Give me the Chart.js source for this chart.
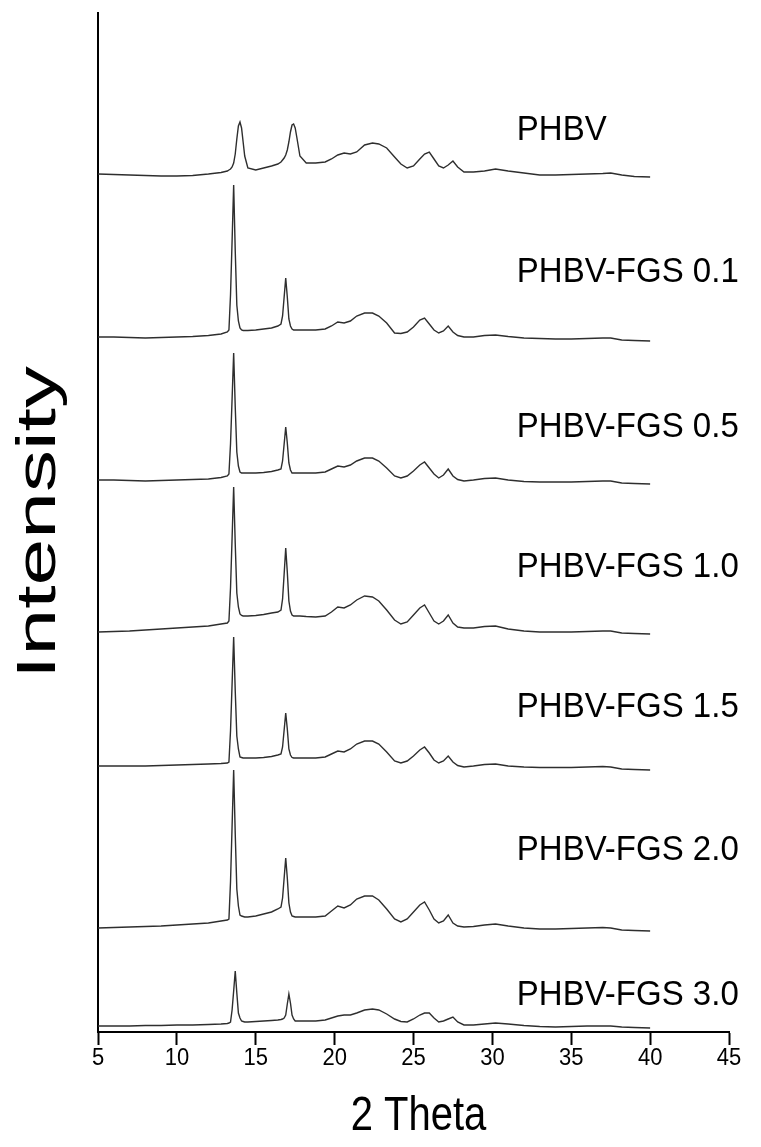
<!DOCTYPE html>
<html>
<head>
<meta charset="utf-8">
<script src="https://cdn.jsdelivr.net/npm/chart.js@4.4.1/dist/chart.umd.min.js"></script>
<style>
  html, body { margin: 0; padding: 0; background: #fff; }
  #wrap { width: 761px; height: 1147px; position: relative; }
</style>
</head>
<body>
<div id="wrap"><canvas id="xrd"></canvas></div>
<script>
// ── Data ───────────────────────────────────────────────────────────
// 2θ sampling grid (degrees), finer around the two main reflections
const twoTheta = [
  5, 6, 7, 8, 9, 10, 11, 12, 12.8,
  13.2, 13.3, 13.4, 13.5, 13.6, 13.7, 13.8, 13.9, 14.0, 14.1, 14.2, 14.3,
  14.5, 15.0, 15.5, 16.0, 16.4,
  16.6, 16.7, 16.8, 16.9, 17.0, 17.1, 17.2, 17.3, 17.4, 17.5, 17.6,
  17.8, 18.2, 18.8, 19.4, 19.8,
  20.2, 20.6, 21.0, 21.4, 21.9, 22.4, 22.8, 23.3, 23.8,
  24.2, 24.6, 25.0, 25.4, 25.7, 26.0, 26.3, 26.6, 26.9, 27.2, 27.5, 27.8,
  28.2, 28.8, 29.5, 30.2, 31.0, 32.0, 33.0, 34.0, 35.0, 36.0, 37.0, 37.5, 38.2, 39.0, 40.0
];

const samples = ['PHBV', 'PHBV-FGS 0.1', 'PHBV-FGS 0.5', 'PHBV-FGS 1.0',
                 'PHBV-FGS 1.5', 'PHBV-FGS 2.0', 'PHBV-FGS 3.0'];

const xTicks = [5, 10, 15, 20, 25, 30, 35, 40, 45];

// vertical offset of each pattern in the stack (a.u.)
const offsets = [858, 695, 552, 400, 266, 104, 6];

// intensity above each pattern's own baseline (a.u.)
const iPHBV = [
  0, -0.5, -1, -1.5, -2, -2, -1.5, 0, 1.5,
  3, 4, 5, 7, 11, 20, 35, 48, 52, 46, 32, 18,
  6, 4, 6, 8, 10,
  12, 14, 16, 19, 24, 32, 42, 49, 50, 46, 37,
  18, 11, 11, 12, 15,
  19, 21, 20, 22, 29, 31, 30, 26, 17,
  10, 6, 8, 15, 20, 22, 15, 8, 6, 9, 13, 7,
  2, 2, 3, 5, 3, 1, -1, -1, -0.5, 0, 0.5, 1, -1, -2.5, -3
];
const iFGS01 = [
  0, 0, -0.5, -1, -0.5, 0, 0.5, 1.5, 3,
  5, 7, 42, 96, 152, 86, 32, 16, 9, 7, 6.5, 6.5,
  6.5, 7, 8, 9, 11,
  13, 21, 40, 59, 40, 18, 11, 8, 7, 7, 7,
  7, 7, 7, 8, 11,
  15, 14, 16, 21, 24, 24, 21, 14, 4,
  3.5, 5, 10, 17, 19, 13, 7, 4, 6, 11, 5, 1.5,
  0, 0, 1.5, 2, 0.5, -1, -1.5, -2, -2, -1.5, -1, -1, -3, -3.5, -4
];
const iFGS05 = [
  0, 0, -0.5, -1, -0.5, 0, 0.5, 1, 2.5,
  4, 6, 36, 81, 127, 73, 28, 14, 8, 7, 7, 7,
  7, 7, 7.5, 8.5, 10,
  11, 19, 36, 53, 37, 17, 10, 7, 7, 7, 7,
  7, 7, 7, 8, 11,
  14, 13, 15, 19, 22, 22, 19, 12, 4,
  2, 4, 9, 15, 18, 12, 6, 2, 5, 11, 4, 0.5,
  -1, 0, 1.5, 2, 0, -1.5, -2, -2, -2, -1.5, -1, -1, -3, -3.5, -4
];
const iFGS10 = [
  0, 0.5, 1, 2, 3, 4, 5, 6, 8,
  9, 11, 44, 94, 145, 88, 39, 25, 18, 16.5, 16, 16,
  16, 16.5, 17.5, 19, 20,
  22, 33, 58, 84, 60, 31, 21, 17, 16, 16, 16,
  16, 15.5, 15, 16, 20,
  25, 24, 27, 32, 36, 35, 31, 22, 12,
  8, 10, 17, 24, 27, 19, 11, 8, 11, 17, 9, 5,
  4, 4, 5.5, 6, 3, 1, 0, 0, 0, 0.5, 1, 1, -1, -1.5, -2
];
const iFGS15 = [
  0, 0, 0, 0, 0.5, 1, 1.5, 2, 2.5,
  3, 4, 35, 82, 129, 75, 30, 17, 9, 8.5, 8, 8,
  8, 8, 8.5, 9.5, 11,
  12, 19, 36, 53, 37, 17, 11, 8.5, 8, 8, 8,
  8, 8, 8, 9, 12,
  15, 14, 17, 22, 25, 25, 22, 14, 5,
  3, 5, 10, 16, 19, 13, 6, 3, 5, 10, 4, 0.5,
  -1, 0, 1.5, 2, 0, -1, -1.5, -1.5, -1.5, -1, -0.5, -1, -3, -3.5, -4
];
const iFGS20 = [
  0, 0.5, 1, 1.5, 2, 3, 4, 5, 7,
  8, 9, 46, 102, 158, 94, 39, 22, 13, 12, 11.5, 11,
  11, 12, 14, 16, 19,
  21, 30, 50, 70, 50, 25, 16, 12, 11.5, 11, 11,
  11, 11, 11, 12, 17,
  22, 20, 23, 29, 32, 32, 28, 19, 9,
  6, 9, 16, 23, 26, 18, 9, 5, 7, 13, 5, 2,
  1, 1.5, 3, 4, 2, 0, -1, -1, -0.5, 0, 0.5, 0, -2, -2.5, -3
];
const iFGS30 = [
  0, 0, 0, 0.5, 0.5, 1, 1, 1.5, 2,
  2.5, 3, 4, 16, 35, 55, 33, 13, 8, 5, 4.5, 4,
  4, 4.5, 5, 5.5, 6,
  6.5, 7, 8, 11, 22, 32, 23, 11, 7, 5, 5,
  5, 5, 5, 6, 8,
  10, 11, 11, 13, 16, 17, 16, 12, 7,
  4.5, 4, 7, 11, 13, 13, 8, 4, 5, 7, 9, 4,
  1, 1, 2, 3, 2, 0.5, -0.5, -1, -0.5, 0, 0, 0, -1, -1.5, -2
];
const intensities = [iPHBV, iFGS01, iFGS05, iFGS10, iFGS15, iFGS20, iFGS30];

// ── Layout / style ─────────────────────────────────────────────────
const FONT = "'Liberation Sans', Arial, Helvetica, sans-serif";
const LINE_COLOR = '#2e2e2e';
const LABEL_X = 31.55;                                   // 2θ where labels start
const LABEL_LEVEL = [902, 760, 605, 465, 325, 182, 37];  // label centres (a.u.)

// the source figure's lettering is taller than it is wide, so text is
// drawn here with a vertical stretch instead of through the scale options
function stretchedText(ctx, text, x, y, size, sx, sy, rotate) {
  ctx.save();
  ctx.translate(x, y);
  if (rotate) ctx.rotate(rotate);
  ctx.scale(sx, sy);
  ctx.font = size + 'px ' + FONT;
  ctx.fillText(text, 0, 0);
  ctx.restore();
}

const figureText = {
  id: 'figureText',
  afterDraw(chart) {
    const { ctx, scales: { x, y } } = chart;
    ctx.save();
    ctx.fillStyle = '#000';

    // sample names
    ctx.textAlign = 'left';
    ctx.textBaseline = 'middle';
    samples.forEach((name, i) => {
      stretchedText(ctx, name, x.getPixelForValue(LABEL_X),
                    y.getPixelForValue(LABEL_LEVEL[i]), 33, 1, 1.05);
    });

    // x tick labels
    ctx.textAlign = 'center';
    ctx.textBaseline = 'alphabetic';
    xTicks.forEach(v => {
      stretchedText(ctx, String(v), x.getPixelForValue(v), y.bottom + 33, 22, 1, 1.12);
    });

    // axis titles
    stretchedText(ctx, '2 Theta', (x.left + x.right) / 2 + 5, y.bottom + 98, 40, 1, 1.2);
    stretchedText(ctx, 'Intensity', 55, (y.top + y.bottom) / 2, 56, 1.5, 1, -Math.PI / 2);

    ctx.restore();
  }
};

const datasets = samples.map((name, i) => ({
  label: name,
  data: twoTheta.map((t, k) => ({ x: t, y: intensities[i][k] + offsets[i] })),
  borderColor: LINE_COLOR,
  borderWidth: 1.4,
  pointRadius: 0,
  tension: 0,
  fill: false
}));

new Chart(document.getElementById('xrd'), {
  type: 'line',
  data: { datasets },
  options: {
    responsive: true,
    maintainAspectRatio: false,
    animation: false,
    devicePixelRatio: 1,
    layout: { padding: { top: 13, right: 32, left: 0, bottom: 0 } },
    plugins: {
      legend: { display: false },
      tooltip: { enabled: false }
    },
    scales: {
      x: {
        type: 'linear',
        min: 5,
        max: 45,
        afterBuildTicks(scale) { scale.ticks = xTicks.map(v => ({ value: v })); },
        ticks: { display: false },
        grid: {
          display: true,
          drawOnChartArea: false,
          drawTicks: true,
          tickLength: 13,
          tickWidth: 2,
          tickColor: '#000'
        },
        border: { display: true, color: '#000', width: 2 },
        title: { display: false },
        afterFit(scale) { scale.height = 115; }
      },
      y: {
        min: 0,
        max: 1019,
        ticks: { display: false },
        grid: { display: false },
        border: { display: true, color: '#000', width: 2 },
        title: { display: false },
        afterFit(scale) { scale.width = 98; }
      }
    }
  },
  plugins: [figureText]
});
</script>
</body>
</html>
